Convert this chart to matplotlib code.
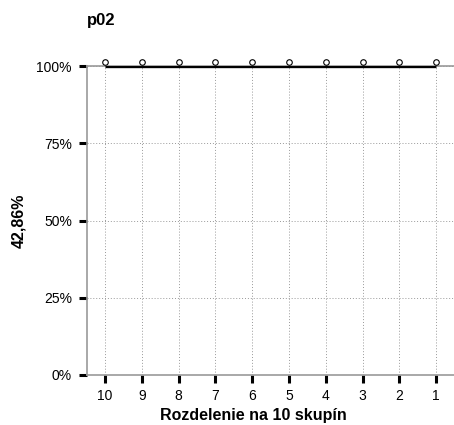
import matplotlib
matplotlib.use("Agg")
import matplotlib.pyplot as plt
from matplotlib.ticker import FuncFormatter

plt.rcParams['font.family'] = ['Liberation Sans', 'DejaVu Sans']

groups = [10, 9, 8, 7, 6, 5, 4, 3, 2, 1]
line_values = [1.0, 1.0, 1.0, 1.0, 1.0, 1.0, 1.0, 1.0, 1.0, 1.0]
point_values = [1.013, 1.013, 1.013, 1.013, 1.013, 1.013, 1.013, 1.013, 1.013, 1.013]
yticks = [0, 0.25, 0.5, 0.75, 1.0]
title = "p02"
xlabel = "Rozdelenie na 10 skupín"
ylabel = "42,86%"

fig = plt.figure(figsize=(4.54, 4.25), dpi=100)
ax = fig.add_axes([86.5/454, 50.3/425, (454.7-86.5)/454, 308.4/425])

ax.plot(groups, line_values, color='black', lw=2.4, solid_capstyle='butt', zorder=3)
ax.plot(groups, point_values, linestyle='none', marker='o', ms=4, mfc='white',
        mec='black', mew=0.8, clip_on=False, zorder=4)

ax.set_xlim(10.5, 0.5)
ax.set_ylim(0, 1.0)
ax.set_xticks(groups)
ax.set_xticklabels([str(g) for g in groups])
ax.set_yticks(yticks)
ax.yaxis.set_major_formatter(FuncFormatter(lambda v, p: f"{int(round(v*100))}%"))

ax.grid(True, axis='both', linestyle=(0, (1.0, 2.0)), color='#999999', lw=0.7)
ax.set_axisbelow(True)

for s in ['left', 'bottom', 'top']:
    ax.spines[s].set_color('#999999')
    ax.spines[s].set_linewidth(1.2)
ax.spines['right'].set_visible(False)

ax.tick_params(axis='both', length=5.5, width=2.2, color='black', labelsize=10, pad=5)

ax.set_xlabel(xlabel, fontsize=11.5, fontweight='bold')
ax.xaxis.set_label_coords(0.453, -0.107)
ax.set_ylabel(ylabel, fontsize=11.5, fontweight='bold')
ax.yaxis.set_label_coords(-0.163, 0.5)

fig.text(87/454, 1 - 20/425, title, fontsize=12, fontweight='bold', ha='left', va='center')

fig.savefig("out.png", dpi=100)
